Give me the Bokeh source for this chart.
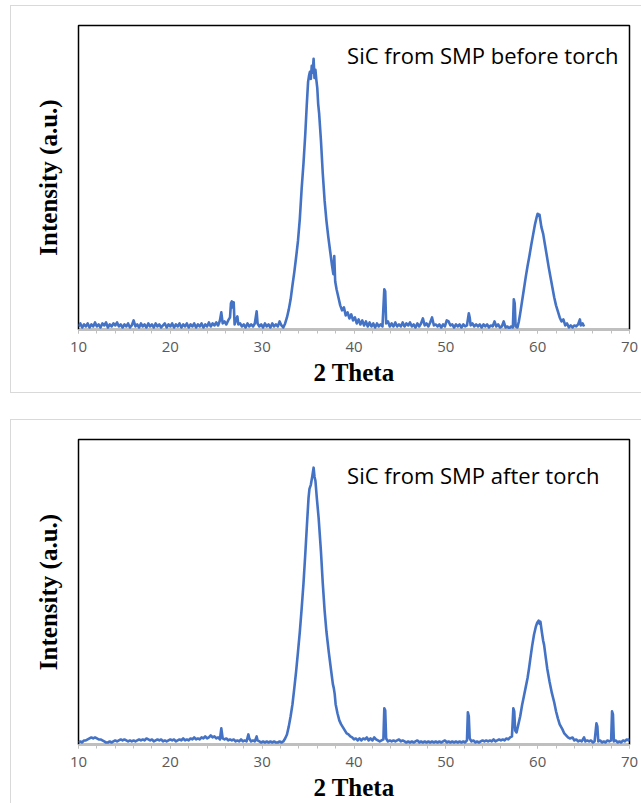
from bokeh.plotting import figure
from bokeh.layouts import column
from bokeh.models import Label, SingleIntervalTicker, FixedTicker, Range1d
from bokeh.embed import file_html
from bokeh.resources import INLINE

# ---------------- data ----------------
before_points = [
    (10.0,3),(10.2,6),(10.4,2),(10.6,5),(10.8,3),(11.0,6),(11.2,2),(11.4,5),(11.6,3),(11.8,7),
    (12.0,3),(12.2,5),(12.4,2),(12.6,6),(12.8,4),(13.0,7),(13.2,2),(13.4,5),(13.6,3),(13.8,6),
    (14.0,4),(14.2,7),(14.4,3),(14.6,5),(14.8,2),(15.0,5),(15.2,3),(15.4,6),(15.6,2),(15.8,4),
    (16.0,9),(16.2,3),(16.4,5),(16.6,2),(16.8,6),(17.0,3),(17.2,5),(17.4,2),(17.6,6),(17.8,3),
    (18.0,5),(18.2,2),(18.4,6),(18.6,3),(18.8,5),(19.0,2),(19.2,4),(19.4,6),(19.6,2),(19.8,5),
    (20.0,3),(20.2,6),(20.4,2),(20.6,5),(20.8,3),(21.0,6),(21.2,2),(21.4,5),(21.6,3),(21.8,6),
    (22.0,2),(22.2,5),(22.4,3),(22.6,6),(22.8,2),(23.0,5),(23.2,3),(23.4,6),(23.6,2),(23.8,5),
    (24.0,3),(24.2,7),(24.4,3),(24.6,6),(24.8,4),(25.0,7),(25.2,4),(25.4,9),(25.55,17),(25.7,6),
    (25.9,8),(26.1,5),(26.3,9),(26.5,12),(26.6,26),(26.7,28),(26.8,22),(26.9,27),(27.0,5),(27.1,8),
    (27.3,13),(27.4,5),(27.6,6),(27.8,3),(28.0,5),(28.2,2),(28.4,6),(28.6,3),(28.8,5),(29.0,3),
    (29.2,6),(29.4,18),(29.5,6),(29.7,3),(29.9,5),(30.1,2),(30.3,6),(30.5,3),(30.7,5),(30.9,2),
    (31.1,6),(31.3,3),(31.5,5),(31.7,3),(31.9,8),(32.1,4),(32.3,2),(32.5,6),(32.7,12),(32.9,20),
    (33.1,30),(33.3,44),(33.5,57),(33.7,72),(33.9,88),(34.1,110),(34.3,140),(34.5,165),(34.7,195),
    (34.85,222),(35.0,246),(35.1,252),(35.2,256),(35.3,249),(35.4,262),(35.5,255),(35.6,269),
    (35.7,250),(35.8,258),(35.9,248),(36.0,240),(36.1,224),(36.2,215),(36.4,188),(36.6,155),
    (36.8,128),(37.0,108),(37.2,92),(37.4,78),(37.6,64),(37.75,55),(37.85,73),(37.95,48),(38.1,40),
    (38.3,32),(38.5,24),(38.7,19),(38.9,22),(39.1,14),(39.3,17),(39.5,11),(39.7,15),(39.9,9),
    (40.1,12),(40.3,6),(40.5,10),(40.7,5),(40.9,9),(41.1,4),(41.3,8),(41.5,3),(41.7,7),(41.9,3),
    (42.1,6),(42.3,2),(42.5,6),(42.7,3),(42.9,5),(43.1,3),(43.3,40),(43.4,38),(43.5,6),(43.7,8),
    (43.9,3),(44.1,6),(44.3,3),(44.5,7),(44.7,3),(44.9,5),(45.1,3),(45.3,7),(45.5,3),(45.7,6),
    (45.9,4),(46.1,7),(46.3,3),(46.5,5),(46.7,2),(46.9,6),(47.1,3),(47.3,6),(47.5,11),(47.7,4),
    (47.9,6),(48.1,3),(48.3,7),(48.5,12),(48.7,4),(48.9,5),(49.1,3),(49.3,5),(49.5,2),(49.7,5),
    (49.9,3),(50.1,9),(50.3,8),(50.5,4),(50.7,5),(50.9,2),(51.1,5),(51.3,3),(51.5,5),(51.7,2),
    (51.9,5),(52.1,3),(52.3,4),(52.5,16),(52.6,12),(52.7,4),(52.9,6),(53.1,3),(53.3,5),(53.5,3),
    (53.7,5),(53.9,2),(54.1,5),(54.3,3),(54.5,5),(54.7,2),(54.9,4),(55.1,3),(55.3,8),(55.5,3),
    (55.7,5),(55.9,2),(56.1,3),(56.3,8),(56.5,2),(56.7,3),(56.9,1),(57.1,3),(57.3,2),(57.4,30),
    (57.5,26),(57.6,3),(57.8,2),(57.95,8),(58.1,16),(58.3,28),(58.5,40),(58.7,52),(58.9,63),
    (59.1,73),(59.3,84),(59.5,94),(59.7,104),(59.9,112),(60.0,115),(60.1,113),(60.2,114),
    (60.3,108),(60.4,102),(60.6,95),(60.8,84),(61.0,73),(61.2,62),(61.4,52),(61.6,42),(61.8,32),
    (62.0,24),(62.2,18),(62.4,12),(62.6,8),(62.8,10),(63.0,4),(63.2,6),(63.4,2),(63.6,4),
    (63.8,2),(64.0,4),(64.2,3),(64.4,5),(64.6,10),(64.7,4),(64.9,6),(65.05,3),
]

after_points = [
    (10.0,2),(10.2,3),(10.4,2),(10.6,4),(10.8,4),(11.0,5),(11.2,6),(11.4,7),(11.6,6),(11.8,7),
    (12.0,6),(12.2,5),(12.4,5),(12.6,4),(12.8,3),(13.0,2),(13.2,2),(13.4,3),(13.6,2),(13.8,3),
    (14.0,4),(14.2,3),(14.4,4),(14.6,5),(14.8,4),(15.0,5),(15.2,4),(15.4,3),(15.6,4),(15.8,3),
    (16.0,4),(16.2,3),(16.4,4),(16.6,5),(16.8,4),(17.0,5),(17.2,4),(17.4,6),(17.6,5),(17.8,4),
    (18.0,5),(18.2,3),(18.4,4),(18.6,5),(18.8,4),(19.0,5),(19.2,3),(19.4,4),(19.6,3),(19.8,4),
    (20.0,5),(20.2,4),(20.4,5),(20.6,3),(20.8,4),(21.0,5),(21.2,4),(21.4,6),(21.6,4),(21.8,5),
    (22.0,4),(22.2,6),(22.4,5),(22.6,7),(22.8,5),(23.0,6),(23.2,5),(23.4,7),(23.6,6),(23.8,8),
    (24.0,6),(24.2,7),(24.4,9),(24.6,7),(24.8,8),(25.0,6),(25.2,7),(25.4,5),(25.55,16),(25.7,6),
    (25.9,5),(26.1,6),(26.3,4),(26.5,5),(26.7,4),(26.9,5),(27.1,3),(27.3,4),(27.5,3),(27.7,5),
    (27.9,3),(28.1,4),(28.3,3),(28.5,10),(28.6,6),(28.8,3),(29.0,4),(29.2,3),(29.4,8),(29.5,4),
    (29.7,3),(29.9,2),(30.1,3),(30.3,2),(30.5,3),(30.7,2),(30.9,3),(31.1,2),(31.3,3),(31.5,2),
    (31.7,2),(31.9,3),(32.1,2),(32.3,3),(32.5,6),(32.7,10),(32.9,18),(33.1,28),(33.3,40),(33.5,56),
    (33.7,73),(33.9,92),(34.1,112),(34.3,135),(34.5,160),(34.7,190),(34.9,222),(35.05,245),
    (35.15,254),(35.3,258),(35.45,266),(35.6,275),(35.7,266),(35.8,262),(35.95,245),(36.15,225),
    (36.4,192),(36.6,160),(36.8,133),(37.0,112),(37.25,92),(37.5,74),(37.7,60),(37.8,56),(37.9,50),
    (38.0,40),(38.2,31),(38.4,24),(38.6,20),(38.8,17),(39.0,14),(39.2,11),(39.4,10),(39.6,8),
    (39.8,7),(40.0,5),(40.2,6),(40.4,4),(40.6,6),(40.8,4),(41.0,6),(41.2,5),(41.4,7),(41.6,4),
    (41.8,6),(42.0,4),(42.2,7),(42.4,5),(42.6,4),(42.8,3),(43.0,4),(43.2,5),(43.3,36),(43.4,34),
    (43.5,6),(43.7,3),(43.9,4),(44.1,3),(44.3,4),(44.5,3),(44.7,4),(44.9,5),(45.1,3),(45.3,4),
    (45.5,3),(45.7,2),(45.9,3),(46.1,2),(46.3,3),(46.5,2),(46.7,3),(46.9,4),(47.1,2),(47.3,3),
    (47.5,2),(47.7,3),(47.9,2),(48.1,3),(48.3,2),(48.5,3),(48.7,2),(48.9,3),(49.1,2),(49.3,3),
    (49.5,2),(49.7,3),(49.9,4),(50.1,2),(50.3,3),(50.5,2),(50.7,3),(50.9,2),(51.1,3),(51.3,2),
    (51.5,3),(51.7,2),(51.9,3),(52.1,2),(52.3,4),(52.4,32),(52.5,28),(52.6,6),(52.8,3),(53.0,4),
    (53.2,2),(53.4,3),(53.6,2),(53.8,3),(54.0,4),(54.2,3),(54.4,4),(54.6,3),(54.8,4),(55.0,3),
    (55.2,5),(55.4,3),(55.6,4),(55.8,5),(56.0,4),(56.2,5),(56.4,4),(56.6,6),(56.8,5),(57.0,7),
    (57.2,8),(57.35,36),(57.45,33),(57.55,14),(57.7,12),(57.9,20),(58.1,28),(58.3,39),(58.5,48),
    (58.7,57),(58.9,66),(59.05,75),(59.2,85),(59.4,98),(59.6,109),(59.8,117),(59.95,121),
    (60.1,123),(60.2,120),(60.3,122),(60.45,112),(60.6,103),(60.7,99),(60.9,85),(61.05,75),
    (61.3,62),(61.55,51),(61.8,42),(62.0,33),(62.2,26),(62.4,20),(62.7,15),(62.9,11),(63.1,9),
    (63.3,7),(63.5,6),(63.8,7),(64.0,4),(64.2,5),(64.4,3),(64.6,4),(64.8,3),(65.05,7),(65.2,3),
    (65.4,4),(65.6,3),(65.8,4),(66.0,2),(66.2,3),(66.4,21),(66.5,18),(66.6,3),(66.8,4),(67.0,2),
    (67.2,3),(67.4,2),(67.6,4),(67.8,3),(68.0,4),(68.1,33),(68.2,30),(68.3,3),(68.5,4),(68.7,2),
    (68.9,3),(69.1,2),(69.3,4),(69.5,3),(69.7,5),(69.9,4),(70.0,6),
]

two_theta_before = [p[0] for p in before_points]
intensity_before = [p[1] for p in before_points]
two_theta_after = [p[0] for p in after_points]
intensity_after = [p[1] for p in after_points]

x_title = "2 Theta"
y_title = "Intensity (a.u.)"
label_before = "SiC from SMP before torch"
label_after = "SiC from SMP after torch"

LINE = "#4472C4"


def make_panel(xs, ys, label_text, y_top, label_drop, margin_top, height, frame_h):
    p = figure(width=631, height=height, output_backend="svg", toolbar_location=None,
               x_range=Range1d(10, 70), y_range=Range1d(0, y_top),
               min_border_left=67, min_border_right=14, min_border_top=19,
               min_border_bottom=height - 19 - frame_h,
               frame_width=550, frame_height=frame_h)
    p.margin = (margin_top, 0, 0, 10)
    p.styles = {"border-left": "1px solid #d9d9d9", "border-top": "1px solid #d9d9d9",
                "border-bottom": "1px solid #d9d9d9", "box-sizing": "border-box"}
    p.background_fill_color = "white"
    p.border_fill_color = "white"
    p.grid.visible = False
    p.outline_line_color = "black"
    p.outline_line_width = 1.5

    p.line(xs, ys, line_color=LINE, line_width=2.6, line_join="round")

    xa = p.xaxis[0]
    xa.ticker = SingleIntervalTicker(interval=10, num_minor_ticks=5)
    xa.axis_line_color = "#bfbfbf"
    xa.major_tick_line_color = "#bfbfbf"
    xa.minor_tick_line_color = "#bfbfbf"
    xa.major_tick_in = 0
    xa.major_tick_out = 4
    xa.minor_tick_in = 0
    xa.minor_tick_out = 4
    xa.major_label_text_font = "Open Sans"
    xa.major_label_text_font_size = "15px"
    xa.major_label_text_color = "#595959"
    xa.major_label_standoff = 8
    xa.axis_label = x_title
    xa.axis_label_text_font = "Liberation Serif"
    xa.axis_label_text_font_style = "bold"
    xa.axis_label_text_font_size = "25px"
    xa.axis_label_text_color = "black"
    xa.axis_label_standoff = 4

    ya = p.yaxis[0]
    ya.ticker = FixedTicker(ticks=[])
    ya.axis_line_color = None
    ya.major_tick_line_color = None
    ya.minor_tick_line_color = None
    ya.major_label_text_font_size = "0px"
    ya.axis_label = y_title
    ya.axis_label_text_font = "Liberation Serif"
    ya.axis_label_text_font_style = "bold"
    ya.axis_label_text_font_size = "25px"
    ya.axis_label_text_color = "black"
    ya.axis_label_standoff = 17

    p.add_layout(Label(x=39.25, y=y_top - label_drop,
                       text=label_text, text_font="Open Sans", text_font_size="22px",
                       text_color="black", text_baseline="middle", text_align="left"))
    return p


p1 = make_panel(two_theta_before, intensity_before, label_before, 302, 29, 5, 386, 302)
p2 = make_panel(two_theta_after, intensity_after, label_after, 303, 35, 26, 386, 303)

layout = column(p1, p2, spacing=0)
open("out.html", "w").write(file_html(layout, INLINE))
